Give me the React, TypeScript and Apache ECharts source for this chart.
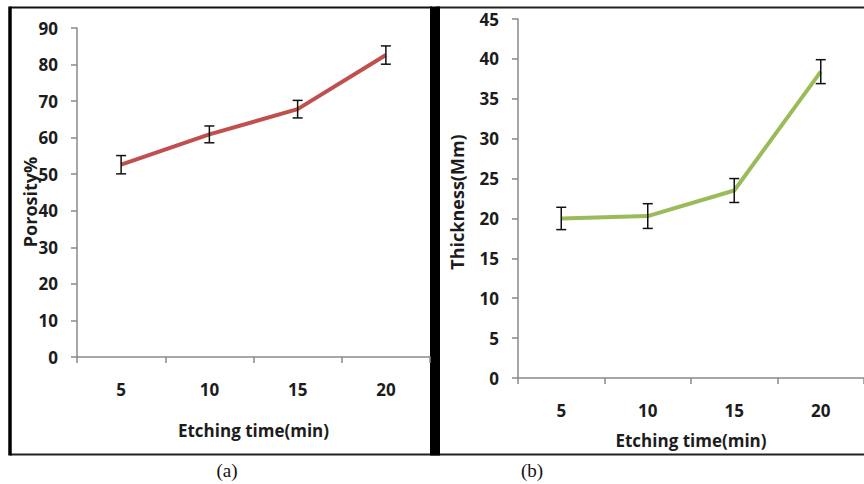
import React, { useEffect, useRef } from "react";
import * as echarts from "echarts";

// Etching time categories shared by both panels
const etchTimes = ["5", "10", "15", "20"];

// Panel (a): porosity (%) with symmetric error
const porosity = [52.6, 60.9, 67.8, 82.6];
const porosityErr = [2.5, 2.3, 2.4, 2.5];

// Panel (b): layer thickness with symmetric error
const thickness = [20.0, 20.3, 23.5, 38.4];
const thicknessErr = [1.4, 1.55, 1.5, 1.5];

const porosityTicks = { min: 0, max: 90, interval: 10 };
const thicknessTicks = { min: 0, max: 45, interval: 5 };

const FONT = "Open Sans";
const TEXT = "#1c1c1c";
const AXIS = "#8a8a8a";

function errorData(vals: number[], errs: number[]) {
  return vals.map((v, i) => [i, v - errs[i], v + errs[i]]);
}

function renderErrorBar(_params: any, api: any) {
  const i = api.value(0);
  const top = api.coord([i, api.value(2)]);
  const bot = api.coord([i, api.value(1)]);
  const hw = 5;
  const style = { stroke: "#111", lineWidth: 1.5 };
  return {
    type: "group",
    children: [
      { type: "line", shape: { x1: top[0], y1: top[1], x2: bot[0], y2: bot[1] }, style },
      { type: "line", shape: { x1: top[0] - hw, y1: top[1], x2: top[0] + hw, y2: top[1] }, style },
      { type: "line", shape: { x1: bot[0] - hw, y1: bot[1], x2: bot[0] + hw, y2: bot[1] }, style },
    ],
  };
}

function xAxisFor(gridIndex: number, nameGap: number) {
  return {
    type: "category",
    gridIndex,
    data: etchTimes,
    boundaryGap: true,
    name: "Etching time(min)",
    nameLocation: "middle",
    nameGap,
    nameTextStyle: { fontFamily: FONT, fontWeight: "bold", fontSize: 17, color: TEXT },
    axisLine: { lineStyle: { color: AXIS, width: 1.5 } },
    axisTick: { show: true, length: 6, lineStyle: { color: AXIS, width: 1.5 } },
    axisLabel: { margin: 24, fontFamily: FONT, fontWeight: "bold", fontSize: 17, color: TEXT },
    splitLine: { show: false },
  };
}

function yAxisFor(gridIndex: number, ticks: any) {
  return {
    type: "value",
    gridIndex,
    min: ticks.min,
    max: ticks.max,
    interval: ticks.interval,
    axisLine: { show: true, lineStyle: { color: AXIS, width: 1.5 } },
    axisTick: { show: true, length: 6, lineStyle: { color: AXIS, width: 1.5 } },
    axisLabel: { margin: 19, fontFamily: FONT, fontWeight: "bold", fontSize: 17, color: TEXT },
    splitLine: { show: false },
  };
}

function verticalTitle(text: string, x: number, y: number) {
  return {
    type: "text",
    x,
    y,
    rotation: Math.PI / 2,
    z: 10,
    style: {
      text,
      fontFamily: FONT,
      fontWeight: "bold",
      fontSize: 18,
      fill: TEXT,
      align: "center",
      verticalAlign: "middle",
    },
  };
}

export default function App() {
  const ref = useRef<HTMLDivElement>(null);

  useEffect(() => {
    if (!ref.current) return;
    const chart = echarts.init(ref.current, null, { renderer: "svg" });
    chart.setOption({
      animation: false,
      backgroundColor: "#ffffff",
      grid: [
        { left: 77, top: 28, width: 353, height: 329 },
        { left: 518, top: 19, width: 352, height: 359 },
      ],
      xAxis: [xAxisFor(0, 65), xAxisFor(1, 54)],
      yAxis: [yAxisFor(0, porosityTicks), yAxisFor(1, thicknessTicks)],
      series: [
        {
          type: "line",
          xAxisIndex: 0,
          yAxisIndex: 0,
          data: porosity,
          symbol: "none",
          lineStyle: { color: "#c0504d", width: 4 },
          z: 2,
        },
        {
          type: "custom",
          xAxisIndex: 0,
          yAxisIndex: 0,
          data: errorData(porosity, porosityErr),
          encode: { x: 0, y: [1, 2] },
          renderItem: renderErrorBar,
          z: 3,
        },
        {
          type: "line",
          xAxisIndex: 1,
          yAxisIndex: 1,
          data: thickness,
          symbol: "none",
          lineStyle: { color: "#9bbb59", width: 4 },
          z: 2,
        },
        {
          type: "custom",
          xAxisIndex: 1,
          yAxisIndex: 1,
          data: errorData(thickness, thicknessErr),
          encode: { x: 0, y: [1, 2] },
          renderItem: renderErrorBar,
          z: 3,
        },
      ],
      graphic: [
        // frame of panel (a)
        { type: "line", shape: { x1: 10, y1: 7.5, x2: 432, y2: 7.5 }, style: { stroke: "#111", lineWidth: 2 } },
        { type: "line", shape: { x1: 10, y1: 454.5, x2: 864, y2: 454.5 }, style: { stroke: "#222", lineWidth: 2 } },
        { type: "line", shape: { x1: 10, y1: 6.5, x2: 10, y2: 455.5 }, style: { stroke: "#000", lineWidth: 3.5 } },
        // frame of panel (b)
        { type: "line", shape: { x1: 436, y1: 7.5, x2: 864, y2: 7.5 }, style: { stroke: "#222", lineWidth: 2 } },
        // heavy divider between the panels
        { type: "rect", shape: { x: 430, y: 6.5, width: 10, height: 449 }, style: { fill: "#000" } },
        // y-axis titles
        verticalTitle("Porosity%", 30, 202),
        verticalTitle("Thickness(Mm)", 457, 202),
        // captions
        {
          type: "text",
          x: 227,
          y: 470,
          style: { text: "(a)", fontFamily: "Liberation Serif", fontSize: 19, fill: "#111", align: "center", verticalAlign: "middle" },
        },
        {
          type: "text",
          x: 532,
          y: 470,
          style: { text: "(b)", fontFamily: "Liberation Serif", fontSize: 19, fill: "#111", align: "center", verticalAlign: "middle" },
        },
      ],
    });
    return () => chart.dispose();
  }, []);

  return (
    <div
      ref={ref}
      style={{ position: "fixed", left: 0, top: 0, width: 864, height: 484, background: "#fff" }}
    />
  );
}
